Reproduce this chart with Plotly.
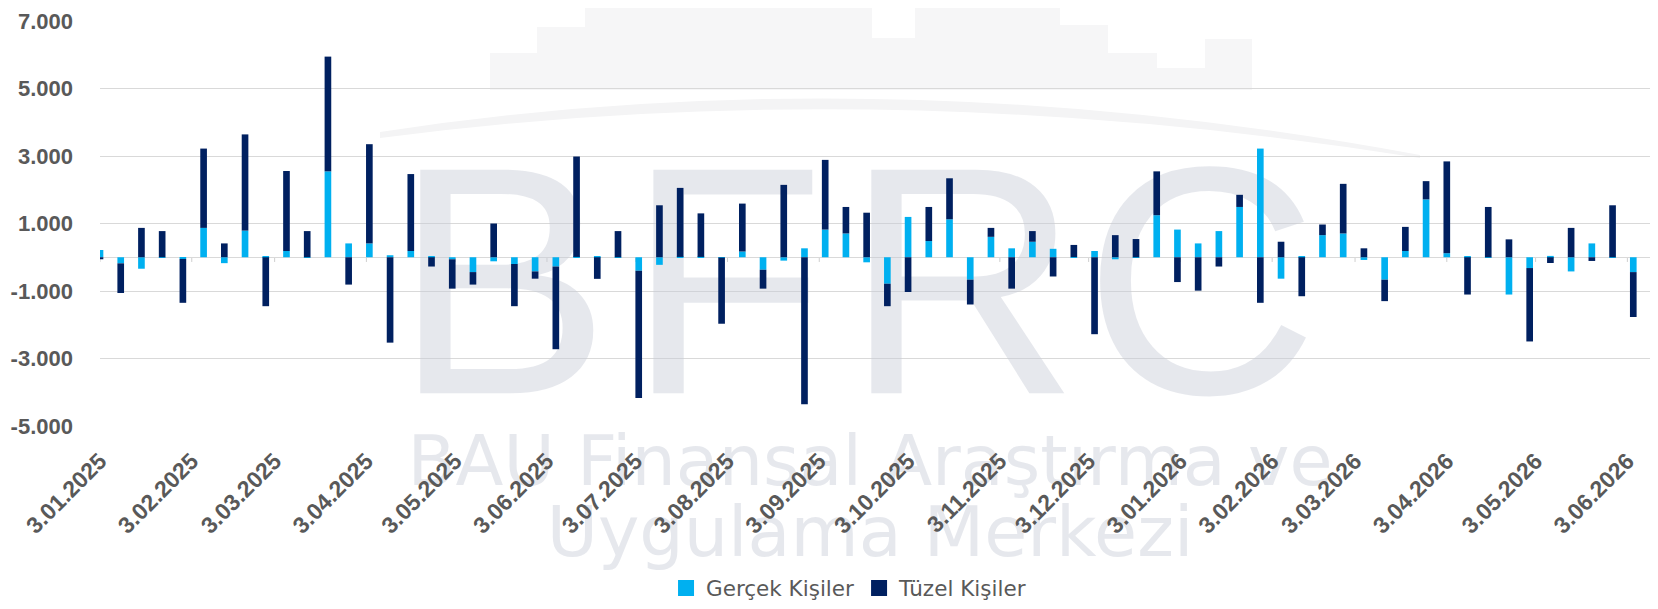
import plotly.graph_objects as go
import pandas as pd

# ---------------- data ----------------
week_start = "2025-01-03"
n_weeks = 76
dates = pd.date_range(week_start, periods=n_weeks, freq="7D")

gercek = [215, -180, -340, -15, -50, 870, -175, 790, 30, 185,
          -15, 2545, 410, 410, 60, 185, 20, -60, -440, -120,
          -200, -420, -275, 10, 20, -10, -400, -225, 10, 10,
          -10, 170, -370, -100, 265, 820, 705, -150, -785, 1195,
          480, 1125, -665, 605, 265, 460, 250, 5, 185, -60,
          -5, 1245, 820, 410, 775, 1490, 3220, -635, 20, 655,
          705, -80, -665, 185, 1715, 120, 20, -10, -1105, -320,
          40, -420, 410, -10, -440, -665]

tuzel = [-60, -880, 870, 775, -1300, 2350, 410, 2850, -1450, 2370,
         775, 3400, -810, 2940, -2530, 2280, -275, -870, -370, 1000,
         -1250, -215, -2450, 2975, -640, 775, -3770, 1540, 2045, 1290,
         -1960, 1420, -560, 2145, -4355, 2065, 785, 1320, -665, -1030,
         1010, 1215, -735, 265, -930, 315, -570, 360, -2280, 655,
         540, 1300, -735, -990, -275, 360, -1350, 460, -1155, 315,
         1470, 265, -635, 715, 540, 2720, -1105, 1490, 530, -2175,
         -170, 870, -110, 1540, -1330, 870]

series_names = ["Gerçek Kişiler", "Tüzel Kişiler"]

tick_dates = ["2025-01-03", "2025-02-03", "2025-03-03", "2025-04-03", "2025-05-03",
              "2025-06-03", "2025-07-03", "2025-08-03", "2025-09-03", "2025-10-03",
              "2025-11-03", "2025-12-03", "2026-01-03", "2026-02-03", "2026-03-03",
              "2026-04-03", "2026-05-03", "2026-06-03"]
tick_labels = ["3.01.2025", "3.02.2025", "3.03.2025", "3.04.2025", "3.05.2025",
               "3.06.2025", "3.07.2025", "3.08.2025", "3.09.2025", "3.10.2025",
               "3.11.2025", "3.12.2025", "3.01.2026", "3.02.2026", "3.03.2026",
               "3.04.2026", "3.05.2026", "3.06.2026"]

y_ticks = [-5000, -3000, -1000, 1000, 3000, 5000, 7000]
y_tick_labels = ["-5.000", "-3.000", "-1.000", "1.000", "3.000", "5.000", "7.000"]

watermark_letters = ["B", "F", "R", "C"]
watermark_lines = ["BAU Finansal Araştırma ve", "Uygulama Merkezi"]

# ---------------- style ----------------
PAGE_OFF = 8                      # default body margin of the html page
W, H = 1658 - PAGE_OFF, 609 - PAGE_OFF
PX0, PX1, ROW0, ROW1 = 100, 1654, 21, 426   # plot area in screenshot pixels
ML, MR = PX0 - PAGE_OFF, W - (PX1 - PAGE_OFF)
MT, MB = ROW0 - PAGE_OFF, H - (ROW1 - PAGE_OFF)
PLOT_W = PX1 - PX0
PLOT_H = ROW1 - ROW0
C_LIGHT = "#00B0F0"
C_DARK = "#002060"
TXT = "#595959"
GRID = "#d9d9d9"
WM = "rgba(200,204,214,0.45)"
BAR_MS = 2.25 * 86400000
X_TICK_FONT = dict(family="Liberation Sans, Arial, sans-serif", size=23, color=TXT, weight="bold")
Y_TICK_FONT = dict(family="Liberation Sans, Arial, sans-serif", size=22, color=TXT, weight="bold")


def px_to_paper(px, row):
    return (px - PX0) / PLOT_W, (ROW1 - row) / PLOT_H


fig = go.Figure()

# watermark letters (base subplot, drawn under the bars of the overlay subplot)
fig.add_trace(go.Scatter(
    x=[502, 726, 962, 1201], y=[-312] * 4, mode="text", text=watermark_letters,
    textfont=dict(family="Liberation Sans", size=325, color=WM),
    textposition="middle center", hoverinfo="skip", showlegend=False,
    cliponaxis=False, xaxis="x", yaxis="y"))

# bars
for name, vals, col in [(series_names[0], gercek, C_LIGHT),
                        (series_names[1], tuzel, C_DARK)]:
    fig.add_trace(go.Bar(x=dates, y=vals, name=name, marker=dict(color=col, line=dict(width=0)),
                         width=BAR_MS, xaxis="x2", yaxis="y2", showlegend=False))

# legend entries with larger square swatches
for name, col in [(series_names[0], C_LIGHT), (series_names[1], C_DARK)]:
    fig.add_trace(go.Scatter(x=[None], y=[None], mode="markers", name=name,
                             marker=dict(symbol="square", size=16, color=col),
                             xaxis="x2", yaxis="y2"))

shapes = []
# faint skyline of the logo
buildings = [(490, 537, 53), (537, 585, 27), (585, 872, 0), (872, 915, 38),
             (915, 1060, 0), (1060, 1108, 25), (1108, 1157, 53), (1157, 1205, 68),
             (1205, 1252, 39)]
for x0, x1, top in buildings:
    a0, b1 = px_to_paper(x0, top)
    a1, b0 = px_to_paper(x1, 90)
    shapes.append(dict(type="rect", xref="paper", yref="paper", x0=a0, x1=a1, y0=b0, y1=b1,
                       fillcolor="#f6f6f7", line=dict(width=0), layer="below"))
# swoosh
pts_top = [(380, 132), (880, 55), (1420, 155)]
pts_bot = [(1420, 158), (880, 72), (380, 138)]


def pp(p):
    a, b = px_to_paper(*p)
    return f"{a:.5f},{b:.5f}"


path = (f"M {pp(pts_top[0])} Q {pp(pts_top[1])} {pp(pts_top[2])} "
        f"L {pp(pts_bot[0])} Q {pp(pts_bot[1])} {pp(pts_bot[2])} Z")
shapes.append(dict(type="path", xref="paper", yref="paper", path=path,
                   fillcolor="#f4f4f5", line=dict(width=0), layer="below"))
# lower watermark lines (shape labels, below the tick labels)
for txt, row in zip(watermark_lines, [456, 527]):
    a0, b1 = px_to_paper(300, row - 40)
    a1, b0 = px_to_paper(1440, row + 40)
    shapes.append(dict(type="rect", xref="paper", yref="paper", x0=a0, x1=a1, y0=b0, y1=b1,
                       fillcolor="rgba(0,0,0,0)", line=dict(width=0), layer="below",
                       label=dict(text=txt, textposition="middle center",
                                  font=dict(family="DejaVu Sans", size=70, color=WM))))
# small month tick marks on the zero line
for d in tick_dates:
    shapes.append(dict(type="line", xref="x2", yref="y2", x0=d, x1=d, y0=0, y1=-140,
                       line=dict(color="#cfcfcf", width=1), layer="below"))

legend_y = (ROW1 - 588) / PLOT_H

fig.update_layout(
    width=W, height=H,
    margin=dict(l=ML, r=MR, t=MT, b=MB, pad=0, autoexpand=False),
    paper_bgcolor="white", plot_bgcolor="rgba(0,0,0,0)",
    barmode="relative",
    showlegend=True,
    legend=dict(orientation="h", x=0.482, xanchor="center", y=legend_y, yanchor="middle",
                font=dict(family="DejaVu Sans", size=21.5, color=TXT),
                bgcolor="rgba(0,0,0,0)", itemclick=False),
    xaxis=dict(range=[PX0, PX1], visible=False, fixedrange=True, automargin=False),
    yaxis=dict(range=[-ROW1, -ROW0], visible=False, fixedrange=True, automargin=False),
    xaxis2=dict(overlaying="x", anchor="y2", type="date", side="bottom",
                range=[week_start, "2026-06-12"], automargin=False,
                tickmode="array", tickvals=tick_dates, ticktext=tick_labels,
                tickangle=-45, ticks="", showgrid=False, showline=False, zeroline=False,
                ticklabelstandoff=16, ticklabeloverflow="allow",
                tickfont=X_TICK_FONT),
    yaxis2=dict(overlaying="y", anchor="x2", side="left", range=[-5000, 7000],
                automargin=False,
                tickmode="array", tickvals=y_ticks, ticktext=y_tick_labels,
                showgrid=True, gridcolor=GRID, gridwidth=1,
                zeroline=True, zerolinecolor=GRID, zerolinewidth=1,
                showline=False, ticks="", ticklabelstandoff=26, ticklabeloverflow="allow",
                tickfont=Y_TICK_FONT),
    shapes=shapes,
)

fig.write_html("out.html")
